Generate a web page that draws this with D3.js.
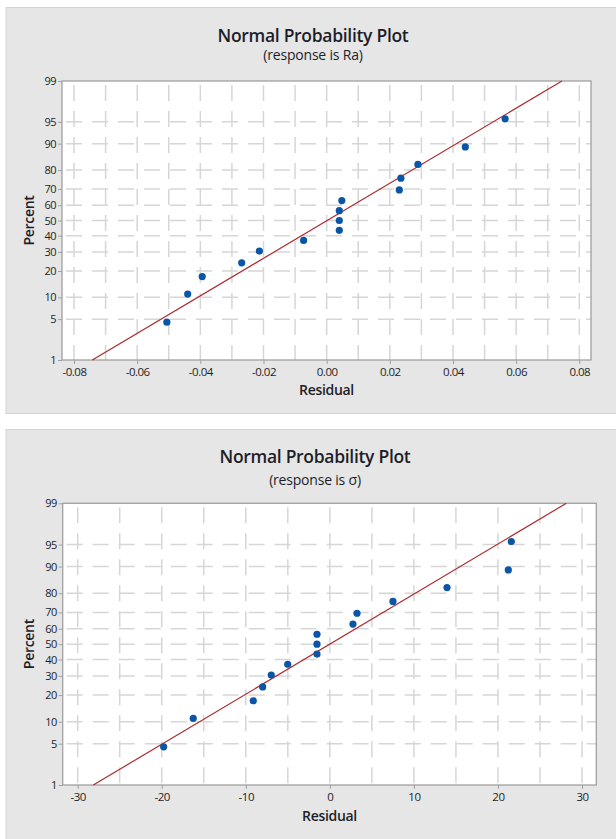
<!DOCTYPE html>
<html>
<head>
<meta charset="utf-8">
<script src="https://cdn.jsdelivr.net/npm/d3@7"></script>
<style>
  html, body { margin: 0; padding: 0; background: #ffffff; }
  svg { display: block; }
  text { font-family: "Open Sans", "Noto Sans", sans-serif; fill: #1e1e28; }
</style>
</head>
<body>
<svg id="chart" width="616" height="839"></svg>
<script>
// ---------------- data ----------------
const percentRank = [4.5, 11.0, 17.5, 24.0, 30.5, 37.0, 43.5, 50.0, 56.5, 63.0, 69.5, 76.0, 82.5, 89.0, 95.5];

const residualRa = [-0.0506, -0.0440, -0.0394, -0.0269, -0.0213, -0.0073, 0.0040, 0.0040, 0.0040, 0.0048,
                    0.0230, 0.0235, 0.0289, 0.0439, 0.0565];
const fitLineRa = [-0.0742, 0.0745];          // residual at 1% and 99%

const residualSigma = [-19.77, -16.25, -9.11, -7.99, -6.97, -5.01, -1.53, -1.53, -1.53, 2.75,
                       3.23, 7.51, 13.94, 21.23, 21.59];
const fitLineSigma = [-28.14, 28.13];

const fitLinePercent = [1, 99];

const percentTicks = [1, 5, 10, 20, 30, 40, 50, 60, 70, 80, 90, 95, 99];
const percentGrid = [5, 10, 20, 30, 40, 50, 60, 70, 80, 90, 95];

const xTicksRa = [-0.08, -0.06, -0.04, -0.02, 0.00, 0.02, 0.04, 0.06, 0.08];
const xGridRa = [-0.08, -0.07, -0.06, -0.05, -0.04, -0.03, -0.02, -0.01, 0, 0.01, 0.02, 0.03, 0.04, 0.05, 0.06, 0.07, 0.08];
const xTicksSigma = [-30, -20, -10, 0, 10, 20, 30];
const xGridSigma = [-30, -25, -20, -15, -10, -5, 0, 5, 10, 15, 20, 25, 30];

const titles = ["Normal Probability Plot", "Normal Probability Plot"];
const subtitles = ["(response is Ra)", "(response is σ)"];
const xLabel = "Residual";
const yLabel = "Percent";

// ---------------- helpers ----------------
// inverse standard normal CDF (Acklam)
function probit(p) {
  const a = [-3.969683028665376e+01, 2.209460984245205e+02, -2.759285104469687e+02, 1.383577518672690e+02, -3.066479806614716e+01, 2.506628277459239e+00];
  const b = [-5.447609879822406e+01, 1.615858368580409e+02, -1.556989798598866e+02, 6.680131188771972e+01, -1.328068155288572e+01];
  const c = [-7.784894002430293e-03, -3.223964580411365e-01, -2.400758277161838e+00, -2.549732539343734e+00, 4.374664141464968e+00, 2.938163982698783e+00];
  const d = [7.784695709041462e-03, 3.224671290700398e-01, 2.445134137142996e+00, 3.754408661907416e+00];
  const pl = 0.02425, ph = 1 - pl;
  let q, r;
  if (p < pl) {
    q = Math.sqrt(-2 * Math.log(p));
    return (((((c[0]*q+c[1])*q+c[2])*q+c[3])*q+c[4])*q+c[5]) / ((((d[0]*q+d[1])*q+d[2])*q+d[3])*q+1);
  } else if (p <= ph) {
    q = p - 0.5; r = q*q;
    return (((((a[0]*r+a[1])*r+a[2])*r+a[3])*r+a[4])*r+a[5])*q / (((((b[0]*r+b[1])*r+b[2])*r+b[3])*r+b[4])*r+1);
  } else {
    q = Math.sqrt(-2 * Math.log(1 - p));
    return -(((((c[0]*q+c[1])*q+c[2])*q+c[3])*q+c[4])*q+c[5]) / ((((d[0]*q+d[1])*q+d[2])*q+d[3])*q+1);
  }
}

const svg = d3.select("#chart");

function drawPanel(cfg) {
  const g = svg.append("g");
  // panel background
  g.append("rect")
    .attr("x", cfg.panel.x).attr("y", cfg.panel.y)
    .attr("width", cfg.panel.w).attr("height", cfg.panel.h)
    .attr("fill", "#e6e6e6").attr("stroke", "#d4d4d4").attr("stroke-width", 1);

  const x = d3.scaleLinear().domain(cfg.xDomain).range([cfg.plot.left, cfg.plot.right]);
  const zScale = d3.scaleLinear().domain([probit(0.01), probit(0.99)]).range([cfg.plot.bottom, cfg.plot.top]);
  const y = p => zScale(probit(p / 100));

  // plot area
  g.append("rect")
    .attr("x", cfg.plot.left).attr("y", cfg.plot.top)
    .attr("width", cfg.plot.right - cfg.plot.left).attr("height", cfg.plot.bottom - cfg.plot.top)
    .attr("fill", "#ffffff");

  // grid
  const grid = g.append("g").attr("stroke", "#d6d6d6").attr("stroke-width", 1.5)
    .attr("stroke-dasharray", "16,10");
  grid.selectAll("line.v").data(cfg.xGrid).join("line")
    .attr("x1", d => x(d)).attr("x2", d => x(d))
    .attr("y1", cfg.plot.top + 4).attr("y2", cfg.plot.bottom);
  grid.selectAll("line.h").data(percentGrid).join("line")
    .attr("y1", d => y(d)).attr("y2", d => y(d))
    .attr("x1", cfg.plot.left + 4).attr("x2", cfg.plot.right);

  // frame
  g.append("rect")
    .attr("x", cfg.plot.left).attr("y", cfg.plot.top)
    .attr("width", cfg.plot.right - cfg.plot.left).attr("height", cfg.plot.bottom - cfg.plot.top)
    .attr("fill", "none").attr("stroke", "#a0a0a0").attr("stroke-width", 1.3);

  // axes
  const xAxis = d3.axisBottom(x).tickValues(cfg.xTicks)
    .tickFormat(d => cfg.xFormat(d).replace("\u2212", "-")).tickSize(4).tickPadding(4);
  const xa = g.append("g").attr("transform", `translate(0,${cfg.plot.bottom})`).call(xAxis);
  xa.select(".domain").remove();
  xa.selectAll(".tick line").attr("stroke", "#a0a0a0");
  xa.selectAll(".tick text").attr("font-size", 11.5).attr("fill", "#1e1e28")
    .attr("font-family", "\"Open Sans\", sans-serif").attr("letter-spacing", -0.5);

  const yAxis = d3.axisLeft(zScale).tickValues(percentTicks.map(p => probit(p / 100)))
    .tickFormat((d, i) => percentTicks[i]).tickSize(4).tickPadding(2);
  const ya = g.append("g").attr("transform", `translate(${cfg.plot.left},0)`).call(yAxis);
  ya.select(".domain").remove();
  ya.selectAll(".tick line").attr("stroke", "#a0a0a0");
  ya.selectAll(".tick text").attr("font-size", 11).attr("fill", "#1e1e28")
    .attr("font-family", "\"Open Sans\", sans-serif").attr("letter-spacing", -0.6);

  // fitted line
  g.append("line")
    .attr("x1", x(cfg.fitLine[0])).attr("y1", y(fitLinePercent[0]))
    .attr("x2", x(cfg.fitLine[1])).attr("y2", y(fitLinePercent[1]))
    .attr("stroke", "#ad2a2e").attr("stroke-width", 1.2);

  // points
  g.selectAll("circle.pt").data(cfg.residuals).join("circle")
    .attr("cx", d => x(d)).attr("cy", (d, i) => y(percentRank[i]))
    .attr("r", 3.6).attr("fill", "#0b55a6");

  // titles
  g.append("text").attr("x", cfg.titleX).attr("y", cfg.titleY)
    .attr("text-anchor", "middle").attr("font-size", 17.5).attr("font-weight", 600)
    .attr("letter-spacing", -0.3).text(cfg.title);
  g.append("text").attr("x", cfg.titleX).attr("y", cfg.subY)
    .attr("text-anchor", "middle").attr("font-size", 14)
    .attr("letter-spacing", -0.2).text(cfg.subtitle);

  // axis labels
  g.append("text").attr("x", (cfg.plot.left + cfg.plot.right) / 2).attr("y", cfg.xLabelY)
    .attr("text-anchor", "middle").attr("font-size", 14).attr("font-weight", 600)
    .attr("letter-spacing", -0.3).text(xLabel);
  g.append("text")
    .attr("transform", `translate(${cfg.yLabelX},${(cfg.plot.top + cfg.plot.bottom) / 2}) rotate(-90)`)
    .attr("text-anchor", "middle").attr("font-size", 14).attr("font-weight", 600)
    .attr("letter-spacing", -0.3).text(yLabel);
}

drawPanel({
  panel: { x: 6, y: 7.5, w: 612, h: 406 },
  plot: { left: 62, right: 591, top: 81, bottom: 360 },
  xDomain: [-0.0838, 0.0837],
  xTicks: xTicksRa, xGrid: xGridRa, xFormat: d3.format(".2f"),
  residuals: residualRa, fitLine: fitLineRa,
  title: titles[0], subtitle: subtitles[0],
  titleX: 313, titleY: 41.5, subY: 60,
  xLabelY: 395, yLabelX: 34
});

drawPanel({
  panel: { x: 6, y: 429.5, w: 612, h: 412 },
  plot: { left: 62.7, right: 596.3, top: 503.3, bottom: 785 },
  xDomain: [-31.78, 31.70],
  xTicks: xTicksSigma, xGrid: xGridSigma, xFormat: d3.format("d"),
  residuals: residualSigma, fitLine: fitLineSigma,
  title: titles[1], subtitle: subtitles[1],
  titleX: 315, titleY: 463, subY: 484.5,
  xLabelY: 820.5, yLabelX: 34
});
</script>
</body>
</html>
